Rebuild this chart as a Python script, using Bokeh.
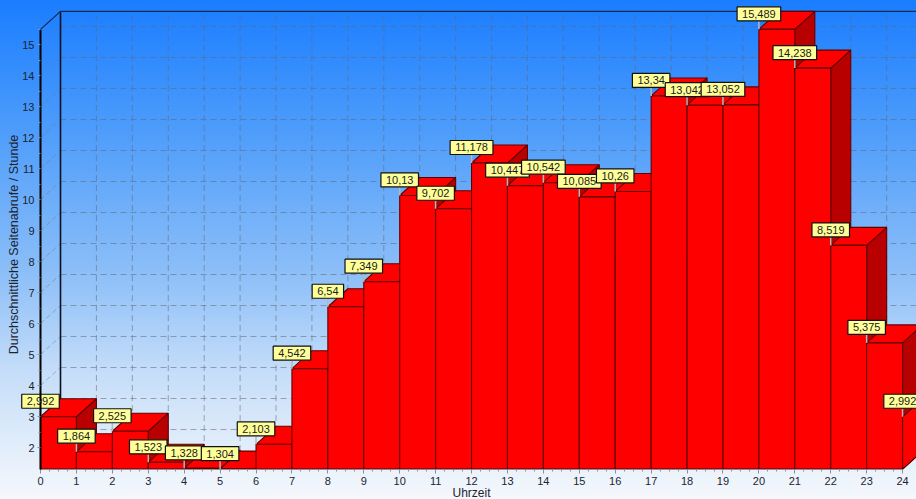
from math import pi

from bokeh.embed import file_html
from bokeh.models import FixedTicker, LinearAxis, Range1d
from bokeh.plotting import figure
from bokeh.resources import INLINE
from bokeh.core.properties import value

hours = list(range(25))
views = [2.992, 1.864, 2.525, 1.523, 1.328, 1.304, 2.103, 4.542, 6.54, 7.349, 10.13, 9.702, 11.178,
         10.447, 10.542, 10.085, 10.26, 13.34, 13.042, 13.052, 15.489, 14.238, 8.519, 5.375, 2.992]
labels = ["2,992", "1,864", "2,525", "1,523", "1,328", "1,304", "2,103", "4,542", "6,54", "7,349", "10,13",
          "9,702", "11,178", "10,447", "10,542", "10,085", "10,26", "13,34", "13,042", "13,052", "15,489",
          "14,238", "8,519", "5,375", "2,992"]
y_ticks = list(range(2, 16))
x_title = "Uhrzeit"
y_title = "Durchschnittliche Seitenabrufe / Stunde"

W, H = 916, 499
X0, XU = 40.0, 35.92       # pixel of hour 0, pixels per hour
Y2, YU = 447.0, 31.0       # pixel of value 2, pixels per unit
DX, DY = 20 / XU, 18 / YU  # 3D depth in data units
ymin, ymax = min(views), max(views)

FONT = "Liberation Sans"
TXT = "#1c2430"

p = figure(width=W, height=H, output_backend="svg", toolbar_location=None, min_border=0,
           x_range=Range1d(-X0 / XU, (W - X0) / XU),
           y_range=Range1d(2 - (H - Y2) / YU, 2 + Y2 / YU),
           x_axis_type=None, y_axis_type=None,
           background_fill_alpha=0, border_fill_alpha=0, outline_line_color=None)
p.styles = {"position": "fixed", "left": "0", "top": "0",
            "background": "linear-gradient(180deg,#1a7dff 0%,#4b9bfb 25%,#8dbff8 55%,#c6def9 75%,#f5f8fc 100%)"}
p.grid.visible = False

# back wall grid
gray = dict(line_color="#5f6a78", line_alpha=0.55, line_width=1, line_dash="6 4")
xs_top = [h + DX for h in hours[1:]]
p.segment(xs_top, [ymin + DY] * len(xs_top), xs_top, [ymax + DY] * len(xs_top), **gray)
p.segment([DX] * len(y_ticks), [t + DY for t in y_ticks], [24 + 2] * len(y_ticks), [t + DY for t in y_ticks], **gray)
# left wall diagonals
p.segment([0] * len(y_ticks), y_ticks, [DX] * len(y_ticks), [t + DY for t in y_ticks],
          line_color="#6f7a88", line_alpha=0.5, line_width=1, line_dash="5 3")
# back wall frame
p.line([0, DX, DX], [ymin, ymin + DY, ymin + DY], line_color="#10182a", line_width=1)
p.line([DX, DX], [ymin + DY, ymax + DY], line_color="#0a1020", line_width=1.6)
p.line([0, DX, 26], [ymax, ymax + DY, ymax + DY], line_color="#14284c", line_width=1.2)

# bars, painted left to right
pxs, pys, cols = [], [], []
for h, v in zip(hours, views):
    if h < 24:
        pxs.append([h + 1, h + 1 + DX, h + 1 + DX, h + 1]); pys.append([v, v + DY, ymin + DY, ymin]); cols.append("#b80000")
        pxs.append([h, h + DX, h + 1 + DX, h + 1]); pys.append([v, v + DY, v + DY, v]); cols.append("#ff0000")
        pxs.append([h, h + 1, h + 1, h]); pys.append([ymin, ymin, v, v]); cols.append("#ff0000")
    else:
        pxs.append([h, h + DX, h + DX, h]); pys.append([v, v + DY, ymin + DY, ymin]); cols.append("#ff0000")
p.patches(pxs, pys, fill_color=cols, line_color="#620000", line_width=1.1)

# axes on the data positions
ax_y = LinearAxis(fixed_location=0, bounds=(ymin, ymax), ticker=FixedTicker(ticks=y_ticks, minor_ticks=[t + 0.5 for t in y_ticks]),
                  major_label_text_font=FONT, major_label_text_font_size="11px", major_label_text_color=TXT,
                  major_label_standoff=3, axis_line_color="#000000", axis_line_width=2,
                  major_tick_line_color="#8a8f98", major_tick_in=0, major_tick_out=3,
                  minor_tick_line_color="#8a8f98", minor_tick_in=0, minor_tick_out=2)
p.add_layout(ax_y, "left")
ax_x = LinearAxis(fixed_location=ymin, bounds=(0, 24),
                  ticker=FixedTicker(ticks=hours[:25], minor_ticks=[h + q for h in hours[:24] for q in (0.25, 0.5, 0.75)]),
                  axis_label=x_title, axis_label_standoff=-3, axis_label_text_font=FONT, axis_label_text_font_size="12px",
                  axis_label_text_font_style="normal", axis_label_text_color=TXT,
                  major_label_text_font=FONT, major_label_text_font_size="11px", major_label_text_color=TXT,
                  major_label_standoff=4, axis_line_color="#8a8f98", axis_line_width=1,
                  major_tick_line_color="#8a8f98", major_tick_in=0, major_tick_out=4,
                  minor_tick_line_color="#8a8f98", minor_tick_in=0, minor_tick_out=2)
p.add_layout(ax_x, "below")

# y axis title, rotated beside the tick labels
p.text([0], [2 + (Y2 - 244) / YU], [y_title], x_offset=-27, angle=pi / 2, text_align="center", text_baseline="middle",
       text_font=value(FONT), text_font_size="12.5px", text_color=TXT)

# callouts
lift = 8 / YU
p.segment(hours, views, hours, [v + lift for v in views], line_color="#b4b8bc", line_width=1.5)
p.text(hours, [v + lift for v in views], labels, y_offset=-7.5, text_align="center", text_baseline="middle",
       text_font=value(FONT), text_font_size="11px", text_color="#1a1a1a",
       background_fill_color="#ffff99", border_line_color="#101010", border_line_width=1.2, padding=(5, 3))

open("out.html", "w").write(file_html(p, INLINE))
